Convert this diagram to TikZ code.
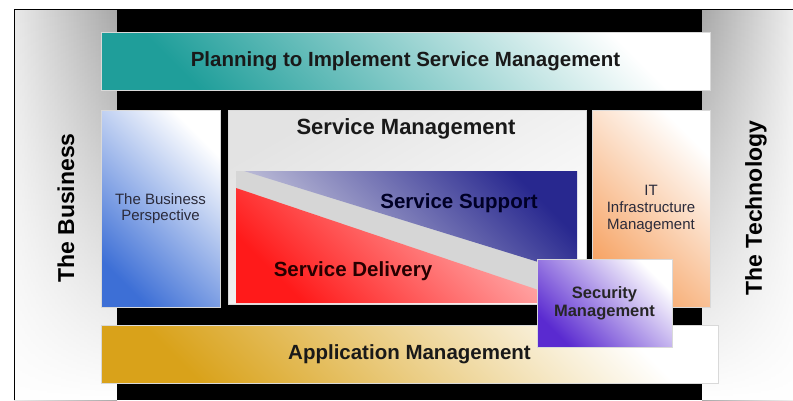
\documentclass[tikz,border=0pt]{standalone}
\usepackage{fontspec}
\setmainfont{Liberation Sans}
\usepackage{xcolor}
\usetikzlibrary{fadings}
\definecolor{tealBand}{HTML}{1F9E9A}
\definecolor{goldBand}{HTML}{D9A21A}
\definecolor{bizBlue}{HTML}{3D6FD6}
\definecolor{infraOrange}{HTML}{F6A262}
\definecolor{secPurple}{HTML}{5A2AD0}
\definecolor{supNavy}{HTML}{28288F}
\definecolor{supLight}{HTML}{CFCFE0}
\definecolor{delRed}{HTML}{FF1A1A}
\definecolor{delPink}{HTML}{FFCACA}
\definecolor{sideGray}{HTML}{A8A8A8}
\definecolor{bandGray}{HTML}{D6D6D6}
\definecolor{inkText}{HTML}{2A2A3A}

\begin{document}
\begin{tikzpicture}[
    x=1pt, y=-1pt,
    box/.style={
        rectangle,
        inner sep=0,
        draw=gray!30,
        align=center,
      },
    fade/.style={top color=#1, bottom color=white, shading angle=135},
    big/.style={font=\fontsize{20.5}{24}\selectfont\bfseries, text=black!90},
    side/.style={font=\fontsize{23}{26}\selectfont\bfseries, rotate=90},
    plain/.style={font=\fontsize{15}{17}\selectfont, text=inkText, align=center},
  ]
  \useasboundingbox (0,0) rectangle (793,400);

  % frame with the two side panels
  \shade[left color=sideGray!25, right color=sideGray] (14,9) rectangle (117,400);
  \fill[white, path fading=north] (14,9) rectangle (117,400);
  \fill[black] (117,9) rectangle (702,400);
  \shade[left color=sideGray, right color=sideGray!20] (702,9) rectangle (793,400);
  \fill[white, path fading=north] (702,9) rectangle (793,400);
  \draw[black, thin] (14,400) -- (14,9) -- (793,9);

  \node[side] (biz) at (66,208) {The Business};
  \node[side] (tech) at (756,208) {The Technology};

  % bands
  \node[box, fade=tealBand, minimum width=609, minimum height=58] (plan) at (405.5,61) {};
  \node[big] at (plan) {Planning to Implement Service Management};
  \node[box, fade=goldBand, minimum width=617, minimum height=58] (app) at (409.5,354) {};
  \node[big] at (app) {Application Management};

  % columns
  \node[box, fade=bizBlue, minimum width=119, minimum height=197, plain] (persp) at (160.5,208.5) {The Business\\[-1pt]Perspective};
  \node[box, fade=infraOrange, minimum width=118, minimum height=197, plain] (infra) at (651,208.5) {IT\\Infrastructure\\Management};
  \node[box, top color=gray!22, bottom color=white, shading angle=30, minimum width=358, minimum height=194] (sm) at (407,207) {};
  \node[big, font=\fontsize{22}{24}\selectfont\bfseries] (smTitle) at (406,129) {Service Management};

  % support and delivery
  \fill[bandGray] (236,171) rectangle (577,303);
  \shade[top color=supNavy, bottom color=supLight, shading angle=-45] (244,171) -- (577,171) -- (577,274) -- cycle;
  \shade[top color=delRed, bottom color=delPink, shading angle=135] (236,188) -- (577,303) -- (236,303) -- cycle;
  \node[big, text=black!85!blue] (sup) at (459,203) {Service Support};
  \node[big, text=black!85!red] (del) at (353,271) {Service Delivery};

  \node[box, fade=secPurple, minimum width=135, minimum height=88,
    font=\fontsize{16.5}{18}\selectfont\bfseries, text=black!85] (sec) at (604.5,303) {Security\\Management};
\end{tikzpicture}
\end{document}
